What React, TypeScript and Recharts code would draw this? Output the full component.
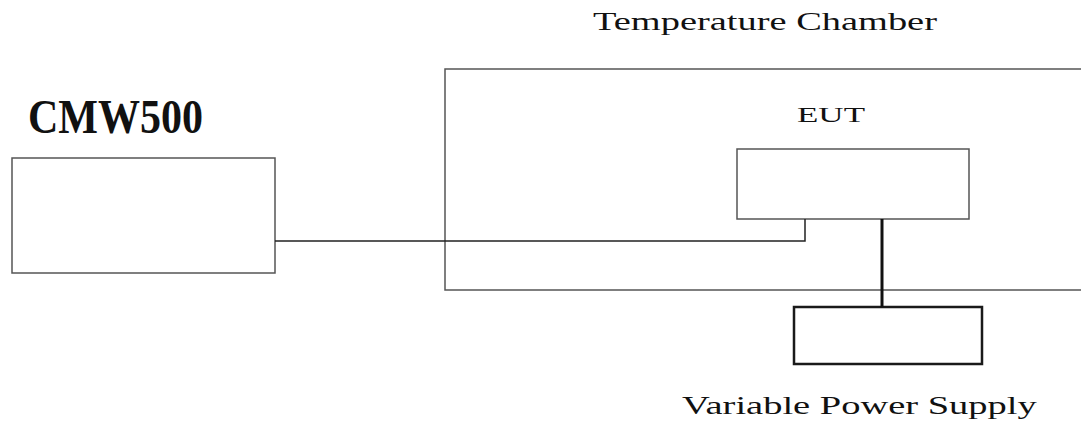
import { useLayoutEffect, useRef, useState } from 'react'
import { ComposedChart, XAxis, YAxis, ReferenceArea, Line, Scatter } from 'recharts'

// Diagram laid out in a 1081 x 421 unit space (y grows downward)
const boxNames = ['CMW500', 'Temperature Chamber', 'EUT', 'Variable Power Supply']
const boxLeft = [12, 445, 737, 794]
const boxRight = [275, 1090, 969, 982]
const boxTop = [158, 69, 149, 307]
const boxBottom = [273, 290, 219, 364]

// RF cable: CMW500 -> EUT, power cable: EUT -> supply
const rfCableX = [275, 805, 805]
const rfCableY = [241, 241, 219]
const powerCableX = [882, 882]
const powerCableY = [219, 307]

const labelTexts = ['CMW500', 'Temperature Chamber', 'EUT', 'Variable Power Supply']
const labelLeft = [28, 593, 797, 682]
const labelBaseline = [133, 30, 122, 414]

const rfCable = rfCableX.map((x, i) => ({ x, y: rfCableY[i] }))
const powerCable = powerCableX.map((x, i) => ({ x, y: powerCableY[i] }))
const labels = labelTexts.map((text, i) => ({ text, x: labelLeft[i], y: labelBaseline[i] }))

// font size (sets the letter height) and the width the text is stretched to
const labelStyle: Record<string, { size: number; length: number; weight: number }> = {
  CMW500: { size: 48, length: 175, weight: 700 },
  'Temperature Chamber': { size: 26, length: 344, weight: 400 },
  EUT: { size: 22, length: 68, weight: 400 },
  'Variable Power Supply': { size: 26, length: 355, weight: 400 },
}

function LabelShape(props: any) {
  const { cx, cy, payload } = props
  const s = labelStyle[payload.text]
  const ref = useRef<SVGTextElement>(null)
  const [sx, setSx] = useState(1)

  useLayoutEffect(() => {
    if (!ref.current) return
    const w = ref.current.getComputedTextLength()
    if (w > 0) setSx(s.length / w)
  }, [s.length])

  return (
    <text
      ref={ref}
      x={0}
      y={0}
      transform={`translate(${cx},${cy}) scale(${sx},1)`}
      fontFamily="'Liberation Serif', 'DejaVu Serif', serif"
      fontSize={s.size}
      fontWeight={s.weight}
      fill="#111"
    >
      {payload.text}
    </text>
  )
}

export default function App() {
  return (
    <div style={{ width: 1081, height: 421, background: '#fff' }}>
      <style>{'body{margin:0}'}</style>
      <ComposedChart width={1081} height={421} margin={{ top: 0, right: 0, bottom: 0, left: 0 }}>
        <XAxis type="number" dataKey="x" domain={[0, 1081]} hide allowDataOverflow />
        <YAxis type="number" dataKey="y" domain={[0, 421]} reversed hide allowDataOverflow />
        {boxNames.map((name, i) => (
          <ReferenceArea
            key={name}
            x1={boxLeft[i]}
            x2={boxRight[i]}
            y1={boxTop[i]}
            y2={boxBottom[i]}
            fill="#fff"
            fillOpacity={0}
            stroke={name === 'Variable Power Supply' ? '#1a1a1a' : '#555'}
            strokeWidth={name === 'Variable Power Supply' ? 2.5 : 1.5}
            ifOverflow="hidden"
          />
        ))}
        <Line
          data={rfCable}
          dataKey="y"
          type="linear"
          stroke="#222"
          strokeWidth={1.5}
          dot={false}
          activeDot={false}
          isAnimationActive={false}
        />
        <Line
          data={powerCable}
          dataKey="y"
          type="linear"
          stroke="#111"
          strokeWidth={3}
          dot={false}
          activeDot={false}
          isAnimationActive={false}
        />
        <Scatter data={labels} dataKey="y" shape={<LabelShape />} isAnimationActive={false} />
      </ComposedChart>
    </div>
  )
}
